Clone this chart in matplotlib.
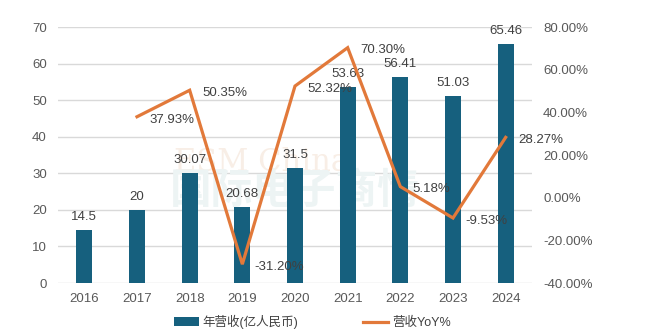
import matplotlib.pyplot as plt
import numpy as np

plt.rcParams['font.family'] = ['Liberation Sans', 'Noto Sans CJK SC']

years = ['2016', '2017', '2018', '2019', '2020', '2021', '2022', '2023', '2024']
revenue = [14.5, 20, 30.07, 20.68, 31.5, 53.63, 56.41, 51.03, 65.46]
yoy_years = ['2017', '2018', '2019', '2020', '2021', '2022', '2023', '2024']
yoy = [37.93, 50.35, -31.20, 52.32, 70.30, 5.18, -9.53, 28.27]

bar_color = '#16607E'
line_color = '#E2793A'
text_color = '#404040'
tick_color = '#595959'

fig = plt.figure(figsize=(6.56, 3.30), dpi=100)
ax = fig.add_axes([58 / 656, 1 - 283 / 330, 474 / 656, 256 / 330])
ax2 = ax.twinx()

x = np.arange(len(years))
bars = ax.bar(x, revenue, width=0.31, color=bar_color, zorder=2, label='年营收(亿人民币)')
for xi, v in zip(x, revenue):
    ax.annotate(f'{v:g}', (xi, v), xytext=(0, 5), textcoords='offset points',
                ha='center', va='bottom', fontsize=9.5, color=text_color)

ax.set_xlim(-0.5, len(years) - 0.5)
ax.set_ylim(0, 70)
ax.set_yticks(range(0, 71, 10))
ax.set_xticks(x)
ax.set_xticklabels(years)
ax.grid(axis='y', color='#D9D9D9', linewidth=1, zorder=0)
ax.set_axisbelow(True)

# faint watermark behind the bars
ax.text(0.43, 0.47, 'ESM China', transform=ax.transAxes, fontsize=22, color='#F8EEE6',
        family='DejaVu Serif', ha='center', va='center', zorder=1)
ax.text(0.50, 0.36, '国际电子商情', transform=ax.transAxes, fontsize=30, color='#EDF4F4',
        family='Noto Sans CJK SC', ha='center', va='center', zorder=1, weight='bold')

xl = [years.index(y) for y in yoy_years]
line, = ax2.plot(xl, yoy, color=line_color, linewidth=2.3, zorder=3, label='营收YoY%',
                 solid_joinstyle='miter')
for xi, v in zip(xl, yoy):
    ax2.annotate(f'{v:.2f}%', (xi, v), xytext=(9, -2), textcoords='offset points',
                 ha='left', va='center', fontsize=9.5, color=text_color)
ax2.set_ylim(-40, 80)
ax2.set_yticks(range(-40, 81, 20))
ax2.set_yticklabels([f'{t:.2f}%' for t in range(-40, 81, 20)])

for a in (ax, ax2):
    for s in a.spines.values():
        s.set_visible(False)
    a.tick_params(length=0, labelsize=9.5, colors=tick_color)
ax.tick_params(axis='x', pad=7)
ax.tick_params(axis='y', pad=8)
ax2.tick_params(axis='y', pad=8)

fig.legend(handles=[bars, line], loc='center', bbox_to_anchor=(312 / 656, 1 - 322 / 330),
           ncol=2, frameon=False, fontsize=9, labelcolor=text_color,
           handlelength=2.0, columnspacing=5.2, handletextpad=0.3)

fig.savefig('out.png', dpi=100)
